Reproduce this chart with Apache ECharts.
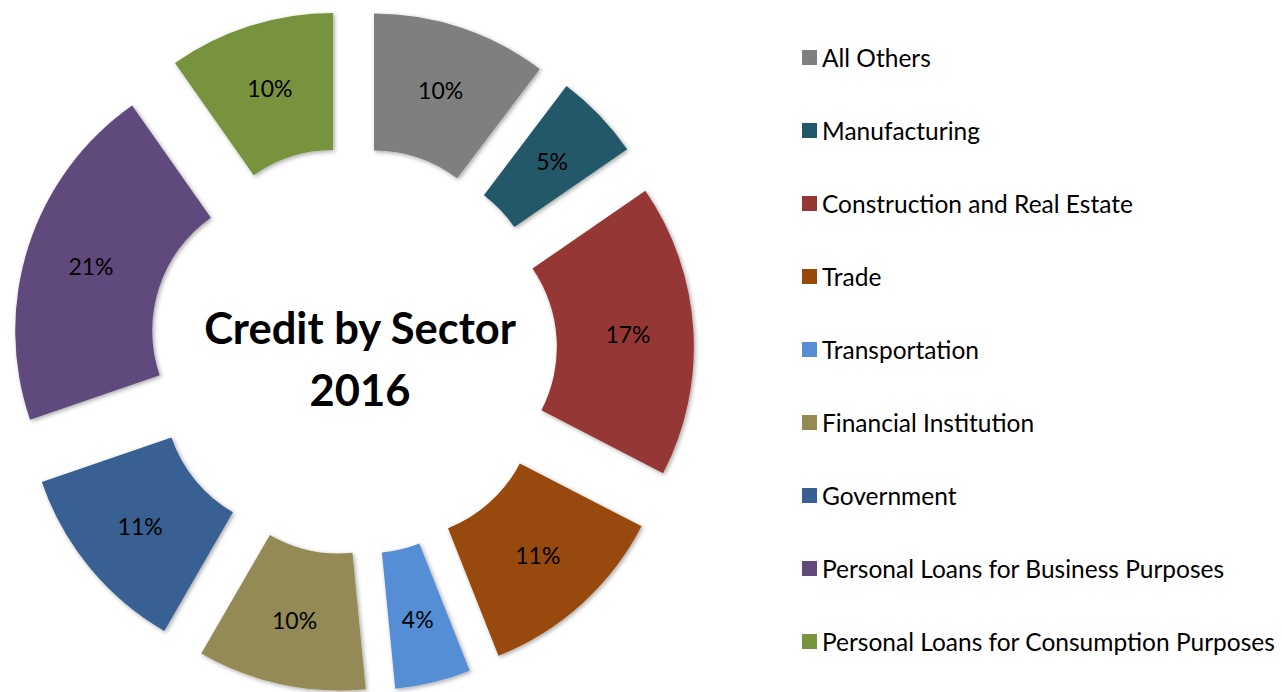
<!DOCTYPE html>
<html>
<head>
<meta charset="utf-8">
<title>Credit by Sector 2016</title>
<script src="https://cdn.jsdelivr.net/npm/echarts@6/dist/echarts.min.js"></script>
<style>
  html, body { margin: 0; padding: 0; background: #ffffff; }
  #chart { width: 1282px; height: 692px; }
</style>
</head>
<body>
<div id="chart"></div>
<script>
// Share of credit by sector, 2016 (percent of total)
const sectors = [
  'All Others',
  'Manufacturing',
  'Construction and Real Estate',
  'Trade',
  'Transportation',
  'Financial Institution',
  'Government',
  'Personal Loans for Business Purposes',
  'Personal Loans for Consumption Purposes'
];
const shares = [10.3, 5.1, 17.2, 11.4, 4.45, 9.9, 11.4, 20.5, 9.75];
const sectorColors = [
  '#7f7f7f', '#215968', '#953735', '#984807', '#558ed5',
  '#948a54', '#376092', '#604a7b', '#77933c'
];
const centerTitle = 'Credit by Sector\n2016';

const FONT = 'Lato, "Open Sans", sans-serif';

const chart = echarts.init(document.getElementById('chart'), null, { renderer: 'svg' });

chart.setOption({
  animation: false,
  backgroundColor: '#ffffff',
  color: sectorColors,
  legend: {
    orient: 'vertical',
    left: 797,
    top: 40,
    icon: 'rect',
    itemWidth: 15,
    itemHeight: 15,
    itemGap: 48,
    selectedMode: false,
    data: sectors,
    textStyle: {
      fontFamily: FONT,
      fontSize: 24.5,
      lineHeight: 24,
      color: '#000000'
    }
  },
  graphic: [{
    type: 'text',
    x: 360,
    y: 358,
    z: 100,
    style: {
      text: centerTitle,
      align: 'center',
      verticalAlign: 'middle',
      fontFamily: FONT,
      fontWeight: 'bold',
      fontSize: 43.5,
      lineHeight: 62,
      fill: '#000000'
    }
  }],
  series: [{
    type: 'pie',
    center: [353, 351],
    radius: [138, 275],
    startAngle: 90,
    clockwise: true,
    selectedMode: 'multiple',
    selectedOffset: 66,
    avoidLabelOverlap: false,
    emphasis: { disabled: true },
    itemStyle: {
      shadowColor: 'rgba(0,0,0,0.35)',
      shadowBlur: 4,
      shadowOffsetX: 1.5,
      shadowOffsetY: 1.5
    },
    label: {
      show: true,
      position: 'inside',
      fontFamily: FONT,
      fontSize: 23,
      color: '#000000',
      formatter: p => Math.round(p.value) + '%'
    },
    labelLine: { show: false },
    data: sectors.map((name, i) => ({ name, value: shares[i], selected: true }))
  }]
});
</script>
</body>
</html>
